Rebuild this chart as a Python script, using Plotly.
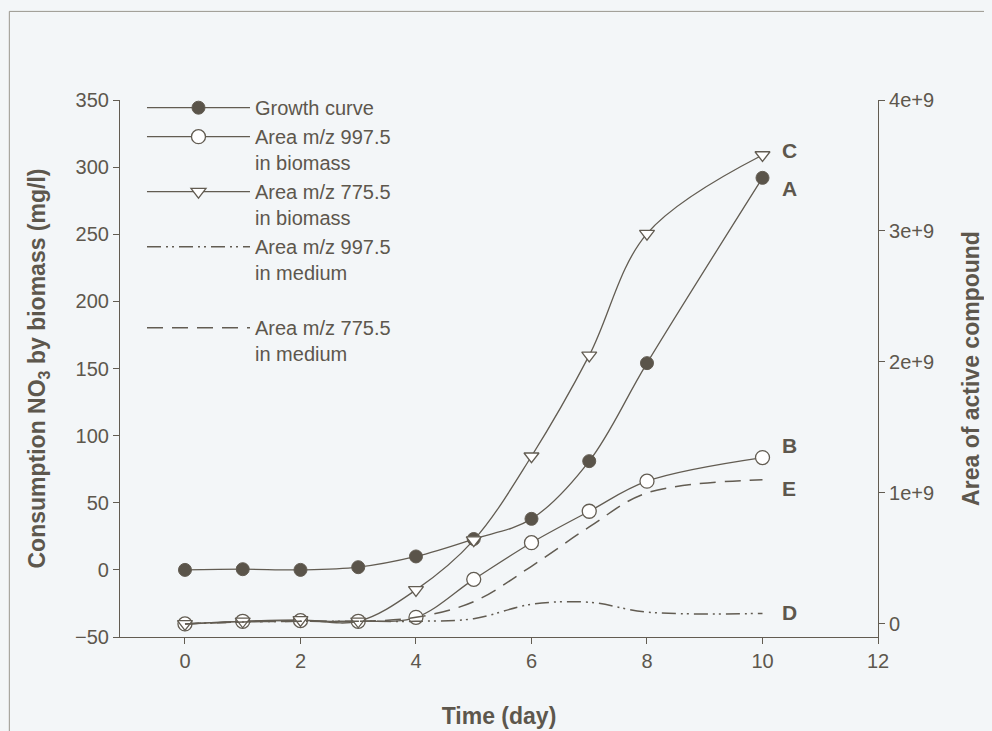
import plotly.graph_objects as go

# ---- data ----
days = [0, 1, 2, 3, 4, 5, 6, 7, 8, 10]
growth = [0, 0.5, 0, 2, 10, 23, 38, 81, 154, 292]            # left axis (mg/l)
area997_biomass = [0.0, 0.02, 0.025, 0.02, 0.05, 0.34, 0.62, 0.86, 1.09, 1.27]   # x1e9
area775_biomass = [0.0, 0.02, 0.03, 0.02, 0.26, 0.64, 1.28, 2.05, 2.98, 3.58]    # x1e9
area997_medium = [0.0, 0.015, 0.02, 0.02, 0.02, 0.04, 0.15, 0.165, 0.09, 0.08]   # x1e9
area775_medium = [0.0, 0.015, 0.02, 0.02, 0.05, 0.17, 0.44, 0.74, 1.0, 1.10]     # x1e9

x_ticks = [0, 2, 4, 6, 8, 10, 12]
y_ticks = [-50, 0, 50, 100, 150, 200, 250, 300, 350]
y2_ticks = [0, 1e9, 2e9, 3e9, 4e9]
y2_ticklabels = ["0", "1e+9", "2e+9", "3e+9", "4e+9"]

curve_labels = ["A", "B", "C", "D", "E"]

scale = 1e9
b997 = [v * scale for v in area997_biomass]
b775 = [v * scale for v in area775_biomass]
m997 = [v * scale for v in area997_medium]
m775 = [v * scale for v in area775_medium]

# ---- style ----
BG = "#f3f6f8"
INK = "#5d574d"
LINE = "#625c52"
FONT = "Liberation Sans, Arial, sans-serif"

fig = go.Figure()

fig.add_trace(go.Scatter(
    x=days, y=growth, name="Growth curve", mode="lines+markers",
    line=dict(color=LINE, width=1.3, shape="spline"),
    marker=dict(symbol="circle", size=13, color="#5a544a", line=dict(color=LINE, width=1)),
))
fig.add_trace(go.Scatter(
    x=days, y=b997, name="Area m/z 997.5<br>in biomass", mode="lines+markers", yaxis="y2",
    line=dict(color=LINE, width=1.3, shape="spline"),
    marker=dict(symbol="circle", size=14, color="white", line=dict(color=LINE, width=1.3)),
))
fig.add_trace(go.Scatter(
    x=days, y=b775, name="Area m/z 775.5<br>in biomass", mode="lines+markers", yaxis="y2",
    line=dict(color=LINE, width=1.3, shape="spline"),
    marker=dict(symbol="triangle-down", size=13, color="white", line=dict(color=LINE, width=1.3)),
))
fig.add_trace(go.Scatter(
    x=days, y=m997, name="Area m/z 997.5<br>in medium<br> ", mode="lines", yaxis="y2",
    line=dict(color=LINE, width=1.5, shape="spline", dash="14px,5px,2px,4px,2px,5px"),
))
fig.add_trace(go.Scatter(
    x=days, y=m775, name="Area m/z 775.5<br>in medium", mode="lines", yaxis="y2",
    line=dict(color=LINE, width=1.5, shape="spline", dash="16px,9px"),
))

# curve letters beside the last points
last = days[-1]
label_pts = [
    (growth[-1], "y", -11),
    (b997[-1], "y2", 12),
    (b775[-1], "y2", 5),
    (m997[-1], "y2", 1),
    (m775[-1], "y2", -9),
]
for lab, (yv, ax, ys) in zip(curve_labels, label_pts):
    fig.add_annotation(x=last, y=yv, yref=ax, xref="x", text=lab, showarrow=False,
                       xanchor="left", xshift=17, yshift=ys,
                       font=dict(family=FONT, size=21, color=INK, weight="bold"))

fig.update_layout(
    width=992, height=731,
    paper_bgcolor=BG, plot_bgcolor=BG,
    margin=dict(l=112, r=122, t=92, b=102),
    font=dict(family=FONT, size=20, color=INK),
    showlegend=True,
    legend=dict(x=0.029, y=1.022, xanchor="left", yanchor="top", bgcolor="rgba(0,0,0,0)",
                valign="top", itemwidth=103, font=dict(family=FONT, size=20, color=INK),
                tracegroupgap=0),
    xaxis=dict(range=[-1.125, 12], tickvals=x_ticks, ticks="outside", ticklen=6,
               showline=True, linecolor=LINE, linewidth=1.2, tickcolor=LINE,
               showgrid=False, zeroline=False, tickfont=dict(size=20),
               title=dict(text="Time (day)", font=dict(family=FONT, size=23, color=INK, weight="bold"),
                          standoff=36)),
    yaxis=dict(range=[-50, 350], tickvals=y_ticks, ticks="outside", ticklen=6,
               showline=True, linecolor=LINE, linewidth=1.2, tickcolor=LINE,
               showgrid=False, zeroline=False, tickfont=dict(size=20),
               title=dict(text="Consumption NO<sub>3</sub> by biomass (mg/l)",
                          font=dict(family=FONT, size=23, color=INK, weight="bold"), standoff=22)),
    yaxis2=dict(range=[-1e8, 4e9], overlaying="y", side="right", anchor="x",
                tickvals=y2_ticks, ticktext=y2_ticklabels, ticks="outside", ticklen=6,
                showline=True, linecolor=LINE, linewidth=1.2, tickcolor=LINE,
                showgrid=False, zeroline=False, tickfont=dict(size=20),
                title=dict(text="Area of active compound",
                           font=dict(family=FONT, size=23, color=INK, weight="bold"), standoff=29)),
)

# thin frame around the figure (left and top edges visible)
fig.add_shape(type="rect", xref="paper", yref="paper",
              x0=-0.146, x1=1.2, y0=-0.25, y1=1.165,
              line=dict(color="#9a978f", width=1))

fig.write_html("out.html",
               post_script="document.body.style.background='%s';" % BG)
